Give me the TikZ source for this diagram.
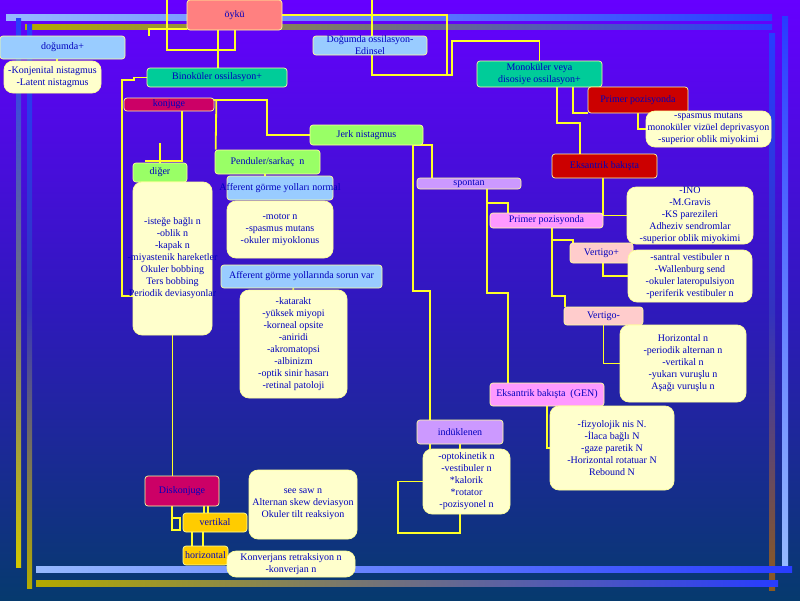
\documentclass[tikz,border=0pt]{standalone}
\usepackage{fontspec}
\setmainfont{Liberation Serif}
\newcommand\diafont{\fontsize{10}{12}\selectfont}

\definecolor{bgtop}{RGB}{102,0,255}
\definecolor{bgmid}{RGB}{48,24,190}
\definecolor{bgbot}{RGB}{6,58,110}
\definecolor{barlight}{RGB}{150,185,255}
\definecolor{barblue}{RGB}{40,60,255}
\definecolor{barolive}{RGB}{180,170,0}
\definecolor{bargray}{RGB}{110,110,130}
\definecolor{baryellow}{RGB}{210,200,0}
\definecolor{barbrown}{RGB}{140,90,30}
\definecolor{barnavy}{RGB}{50,50,190}
\definecolor{salmonbox}{RGB}{255,128,128}
\definecolor{skybox}{RGB}{153,204,255}
\definecolor{paleyellow}{RGB}{255,255,204}
\definecolor{tealbox}{RGB}{0,204,153}
\definecolor{crimsonbox}{RGB}{204,0,102}
\definecolor{greenbox}{RGB}{153,255,102}
\definecolor{redbox}{RGB}{204,0,0}
\definecolor{lavbox}{RGB}{204,153,255}
\definecolor{pinkbox}{RGB}{255,153,255}
\definecolor{palepink}{RGB}{255,204,204}
\definecolor{goldbox}{RGB}{255,204,0}
\definecolor{wirecol}{RGB}{255,255,40}
\definecolor{rim}{RGB}{255,255,153}
\definecolor{ink}{RGB}{0,0,190}

\pgfdeclarelayer{back}
\pgfdeclarelayer{wires}
\pgfsetlayers{back,wires,main}

\begin{document}
\begin{tikzpicture}[x=1pt,y=-1pt,
  box/.style={draw=rim, line width=0.7pt, rounded corners=3pt, inner sep=0pt,
    align=center, text=ink, font=\diafont},
  listbox/.style={box, fill=paleyellow, rounded corners=9pt},
  wire/.style={draw=wirecol, line width=1.8pt},
  over/.style={label={[text=ink, font=\diafont, align=center]center:{#1}}}]

  \useasboundingbox (0,0) rectangle (800,600);

  % Background and frame bars
  \begin{pgfonlayer}{back}
    \shade[top color=bgtop, bottom color=bgbot, middle color=bgmid] (0,0) rectangle (800,600);
    \shade[left color=barlight, right color=barblue] (6,14) rectangle (772,20);
    \shade[left color=barolive, right color=barblue, middle color=bargray] (25,24) rectangle (772,29);
    \shade[top color=barblue, bottom color=baryellow, middle color=bargray] (16,18) rectangle (21,567);
    \shade[top color=barblue, bottom color=barolive, middle color=barnavy] (27,24) rectangle (32,588);
    \shade[top color=barblue, bottom color=barbrown, middle color=barnavy] (769,33) rectangle (775,590);
    \shade[top color=barblue, bottom color=barlight] (782,16) rectangle (788,565);
    \shade[left color=barlight, right color=barblue] (36,566) rectangle (792,572);
    \shade[left color=barolive, right color=barblue, middle color=bargray] (36,580) rectangle (778,586);
  \end{pgfonlayer}

  % Define the boxes
  \node[box, fill=salmonbox, minimum width=95pt, minimum height=30pt] (oyku) at (234.5,15) {öykü};
  \node[box, fill=skybox, minimum width=125pt, minimum height=23pt] (dogumda) at (62.5,47.5) {doğumda+};
  \node[listbox, minimum width=97pt, minimum height=32pt] (konjL) at (52.5,77) {-Konjenital nistagmus\\-Latent nistagmus};
  \node[box, fill=skybox, minimum width=114pt, minimum height=19pt,
    over={Doğumda ossilasyon-\\Edinsel}] (edinsel) at (370,45.5) {};
  \node[box, fill=tealbox, minimum width=140pt, minimum height=19pt] (binok) at (217,77.5) {Binoküler ossilasyon+};
  \node[box, fill=crimsonbox, minimum width=90pt, minimum height=13pt] (konjuge) at (169,104.5) {konjuge};
  \node[box, fill=greenbox, minimum width=113pt, minimum height=20pt] (jerk) at (366.5,135) {Jerk nistagmus};
  \node[box, fill=greenbox, minimum width=105pt, minimum height=24pt] (penduler) at (267.5,162) {Penduler/sarkaç~ n};
  \node[box, fill=greenbox, minimum width=54pt, minimum height=19pt] (diger) at (160,172.5) {diğer};
  \node[listbox, minimum width=79pt, minimum height=153pt,
    over={-isteğe bağlı n\\-oblik n\\-kapak n\\-miyastenik hareketler\\Okuler bobbing\\Ters bobbing\\Periodik deviasyonlar}]
    (digerL) at (172.5,258.5) {};
  \node[box, fill=skybox, minimum width=106pt, minimum height=24pt,
    over={Afferent görme yolları normal}] (affnorm) at (280,188) {};
  \node[listbox, minimum width=106pt, minimum height=57pt] (motorL) at (280,229.5) {-motor n\\-spasmus mutans\\-okuler miyoklonus};
  \node[box, fill=skybox, minimum width=161pt, minimum height=23pt] (affsorun) at (301.5,276.5) {Afferent görme yollarında sorun var};
  \node[listbox, minimum width=107pt, minimum height=108pt] (katarL) at (293.5,344)
    {-katarakt\\-yüksek miyopi\\-korneal opsite\\-aniridi\\-akromatopsi\\-albinizm\\-optik sinir hasarı\\-retinal patoloji};
  \node[box, fill=tealbox, minimum width=125pt, minimum height=26pt] (monok) at (539.5,74) {Monoküler veya\\disosiye ossilasyon+};
  \node[box, fill=redbox, minimum width=100pt, minimum height=26pt] (primerR) at (638,100) {Primer pozisyonda};
  \node[listbox, minimum width=125pt, minimum height=36pt,
    over={-spasmus mutans\\monoküler vizüel deprivasyon\\-superior oblik miyokimi}] (spasmL) at (708.5,129) {};
  \node[box, fill=redbox, minimum width=105pt, minimum height=24pt] (eksR) at (604.5,166) {Eksantrik bakışta};
  \node[box, fill=lavbox, minimum width=104pt, minimum height=11pt] (spontan) at (469,183.5) {spontan};
  \node[listbox, minimum width=126pt, minimum height=57pt] (inoL) at (690,215.5)
    {-INO\\-M.Gravis\\-KS parezileri\\Adheziv sendromlar\\-superior oblik miyokimi};
  \node[box, fill=pinkbox, minimum width=113pt, minimum height=15pt] (primerP) at (546.5,220.5) {Primer pozisyonda};
  \node[box, fill=palepink, minimum width=63pt, minimum height=20pt] (vertP) at (601.5,253) {Vertigo+};
  \node[listbox, minimum width=124pt, minimum height=52pt] (santL) at (690,276)
    {-santral vestibuler n\\-Wallenburg send\\-okuler lateropulsiyon\\-periferik vestibuler n};
  \node[box, fill=palepink, minimum width=79pt, minimum height=18pt] (vertM) at (603.5,316) {Vertigo-};
  \node[listbox, minimum width=126pt, minimum height=77pt] (horizL) at (683,363.5)
    {Horizontal n\\-periodik alternan n\\-vertikal n\\-yukarı vuruşlu n\\Aşağı vuruşlu n};
  \node[box, fill=pinkbox, minimum width=114pt, minimum height=23pt] (eksGEN) at (547,394.5) {Eksantrik bakışta~ (GEN)};
  \node[listbox, minimum width=124pt, minimum height=84pt] (fizL) at (612,448)
    {-fizyolojik nis N.\\-İlaca bağlı N\\-gaze paretik N\\-Horizontal rotatuar N\\Rebound N};
  \node[box, fill=lavbox, minimum width=86pt, minimum height=24pt] (induk) at (460,432) {indüklenen};
  \node[listbox, minimum width=87pt, minimum height=65pt] (optoL) at (466.5,481.5)
    {-optokinetik n\\-vestibuler n\\*kalorik\\*rotator\\-pozisyonel n};
  \node[box, fill=crimsonbox, minimum width=74pt, minimum height=30pt] (diskon) at (182,491) {Diskonjuge};
  \node[listbox, minimum width=108pt, minimum height=69pt] (seesawL) at (303,504.5)
    {see saw n\\Alternan skew deviasyon\\Okuler tilt reaksiyon};
  \node[box, fill=goldbox, minimum width=64pt, minimum height=19pt] (vertikal) at (215,522.5) {vertikal};
  \node[box, fill=goldbox, minimum width=45pt, minimum height=19pt] (horiz) at (205.5,555.5) {horizontal};
  \node[listbox, minimum width=128pt, minimum height=26pt] (konvL) at (291,564) {Konverjans retraksiyon n\\-konverjan n};

  % Free ends of the connectors
  \coordinate (topA) at (167,0);
  \coordinate (topB) at (372,0);
  \coordinate (dgA) at (145,161);
  \coordinate (dgB) at (160,143);

  % Draw the connectors
  \begin{pgfonlayer}{wires}
    \draw[wire] ([xshift=-16.5pt]oyku.south) -- ([xshift=-16.5pt]oyku.south |- binok.north);
    \draw[wire] ([xshift=0.5pt]oyku.south) -- ++(0,20) -| (topA);
    \draw[wire] (oyku.east) -| (447,75);
    \draw[wire] (topB) |- (452,75) -- (452,41) -| (monok.north);
    \draw[wire] ([yshift=-14pt]oyku.west) -| ([xshift=86.5pt]dogumda.north);
    \draw[wire] ([xshift=-5.5pt]dogumda.south) -- ([xshift=4.5pt]konjL.north);

    \draw[wire] (binok.west) -- (134,77.5) |- (122,80) |- ([yshift=-37.5pt]digerL.west);
    \draw[wire] ([xshift=13pt]konjuge.south) |- (dgA);
    \draw[wire] (dgB) -- (diger.north);
    \draw[wire] ([yshift=-2pt]konjuge.north east) -| (267,135) -- (jerk.west);
    \draw[wire] ([xshift=2pt,yshift=-2pt]konjuge.north east) -- ([xshift=1pt]penduler.north west);
    \draw[wire] ([xshift=-2.5pt]penduler.south) -- ([xshift=-15pt]affnorm.north);
    \draw[wire] ([xshift=-8.5pt]affsorun.south) -- (katarL.north);

    \draw[wire] (digerL.south) -- (digerL.south |- diskon.north);
    \draw[wire] ([xshift=-10pt]diskon.south) -- ++(0,24) -- ++(8,0) -- ++(0,-12) -- ++(-8,0);
    \draw[wire] ([xshift=22pt]diskon.south) -- ([xshift=-11pt]vertikal.north);
    \draw[wire] ([xshift=26pt]diskon.south) -- ([xshift=-7pt]vertikal.north);
    \draw[wire] ([xshift=-23pt]vertikal.south) -- ([xshift=-13.5pt]horiz.north);
    \draw[wire] ([xshift=-12pt]vertikal.south) -- ([xshift=-2.5pt]horiz.north);

    \draw[wire] ([xshift=46.5pt]jerk.south) |- (430,291) -- ([xshift=-30pt]induk.north);
    \draw[wire] ([xshift=46.5pt]jerk.south) -| ([xshift=-37pt]spontan.north);
    \draw[wire] ([xshift=18pt]spontan.south) |- (508,203) -- ([xshift=-38.5pt]primerP.north);
    \draw[wire] ([xshift=18pt]spontan.south) |- (508,293) -- ([xshift=-39pt]eksGEN.north);
    \draw[wire] ([xshift=5.5pt]primerP.south) |- (573,240) -- ([xshift=-28.5pt]vertP.north);
    \draw[wire] ([xshift=5.5pt]primerP.south) |- (565,296) -- ([xshift=-38.5pt]vertM.north);
    \draw[wire] ([xshift=-1.5pt]eksR.south) |- (inoL.west);
    \draw[wire] ([xshift=1.5pt]vertP.south) |- (santL.west);
    \draw[wire] (vertM.south) |- (horizL.west);
    \draw[wire] (eksGEN.south) |- (fizL.west);

    \draw[wire] ([xshift=17.5pt]monok.south) |- (580,123) -- ([xshift=-24.5pt]eksR.north);
    \draw[wire] ([xshift=33.5pt]monok.south) |- (primerR.south west);
    \draw[wire] (primerR.south) |- (spasmL.west);

    \draw[wire] (induk.south) -- (optoL.north -| induk.south);
    \draw[wire] ([xshift=-30pt]induk.south) -- ([xshift=-36.5pt]optoL.north);
    \draw[wire] (optoL.west) -- ++(-25,0) |- (460,533) -- ([xshift=-6.5pt]optoL.south);
  \end{pgfonlayer}

\end{tikzpicture}
\end{document}
